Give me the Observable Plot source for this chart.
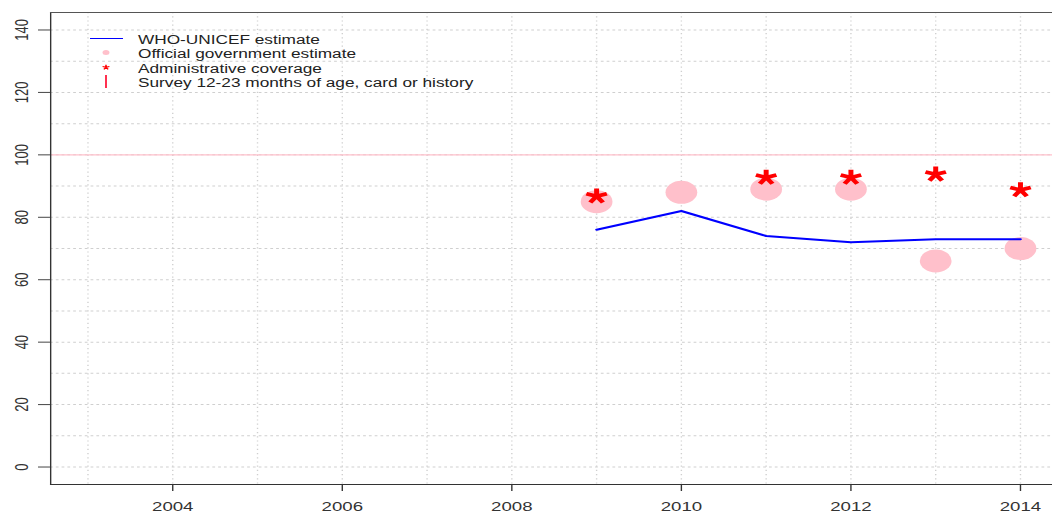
<!DOCTYPE html>
<html><head><meta charset="utf-8">
<script src="https://cdn.jsdelivr.net/npm/d3@7"></script>
<script src="https://cdn.jsdelivr.net/npm/@observablehq/plot@0.6"></script>
<style>html,body{margin:0;padding:0;background:#fff;overflow:hidden}</style>
</head><body><div id="chart"></div>
<script>
// ---- data ----
const years = [2009, 2010, 2011, 2012, 2013, 2014];
const whoUnicef = [76, 82, 74, 72, 73, 73];
const official = [85, 88, 89, 89, 66, 70];
const adminYears = [2009, 2011, 2012, 2013, 2014];
const admin = [87, 93, 93, 94, 89];
const xTicks = [2004, 2006, 2008, 2010, 2012, 2014];
const yTicks = [0, 20, 40, 60, 80, 100, 120, 140];
const gridYears = [2003, 2004, 2005, 2006, 2007, 2008, 2009, 2010, 2011, 2012, 2013, 2014];
const gridValues = [0, 10, 20, 30, 40, 50, 60, 70, 80, 90, 100, 110, 120, 130, 140];
const targetLine = [100];
const legendLabels = ["WHO-UNICEF estimate", "Official government estimate", "Administrative coverage", "Survey 12-23 months of age, card or history"];

const whoData = years.map((y, i) => ({year: y, value: whoUnicef[i]}));
const offData = years.map((y, i) => ({year: y, value: official[i]}));
const admData = adminYears.map((y, i) => ({year: y, value: admin[i]}));

// drawing in an unstretched coordinate system, then stretched horizontally
const W = 762, H = 514, OUTW = 1052;

const asterisk5 = {
  draw(context, size) {
    const L = Math.sqrt(size / Math.PI);
    const off = 0.0955 * L;
    for (let i = 0; i < 5; i++) {
      const a = -Math.PI / 2 + i * 2 * Math.PI / 5;
      context.moveTo(0, off);
      context.lineTo(L * Math.cos(a), off + L * Math.sin(a));
    }
  }
};

const chart = Plot.plot({
  width: W,
  height: H,
  marginLeft: 36.2,
  marginRight: 0,
  marginTop: 12,
  marginBottom: 30,
  style: {fontFamily: "Liberation Sans, Arial, sans-serif", fontSize: "14px", background: "#fff", color: "#222"},
  x: {domain: [2002.56, 2014.38]},
  y: {domain: [-5.6, 145.6]},
  marks: [
    Plot.gridX(gridYears, {stroke: "#cfcfcf", strokeOpacity: 1, strokeDasharray: "1.2,3"}),
    Plot.gridY(gridValues, {stroke: "#cfcfcf", strokeOpacity: 1, strokeDasharray: "2,2.2"}),
    Plot.ruleY(targetLine, {stroke: "pink", strokeWidth: 1.2}),
    Plot.axisX({ticks: xTicks, tickSize: 7, tickPadding: 10, tickFormat: d => String(d), fontSize: 13.5, color: "#333", label: null}),
    Plot.axisY({ticks: yTicks, tickSize: 8.7, tickFormat: () => "", color: "#444", label: null}),
    Plot.text(yTicks, {y: d => d, text: d => String(d), frameAnchor: "left", dx: -20.3, rotate: -90, textAnchor: "middle", lineAnchor: "middle", fontSize: 13, fill: "#333"}),
    Plot.frame({anchor: "left", stroke: "#333"}),
    Plot.frame({anchor: "bottom", stroke: "#333"}),
    Plot.frame({anchor: "top", stroke: "#555"}),
    Plot.dot(offData, {x: "year", y: "value", r: 11.5, fill: "pink", stroke: "none"}),
    Plot.line(whoData, {x: "year", y: "value", stroke: "blue", strokeWidth: 2}),
    Plot.dot(admData, {x: "year", y: "value", symbol: asterisk5, r: 7.8, fill: "none", stroke: "red", strokeWidth: 3.6})
  ]
});

chart.setAttribute("width", OUTW);
chart.setAttribute("height", H);
chart.setAttribute("viewBox", `0 0 ${W} ${H}`);
chart.setAttribute("preserveAspectRatio", "none");
chart.style.maxWidth = "none";
chart.style.display = "block";

// legend
const s = OUTW / W;
const svg = d3.select(chart);
const lg = svg.append("g")
  .attr("font-family", "Liberation Sans, Arial, sans-serif")
  .attr("font-size", 12.5)
  .attr("fill", "#222")
  .attr("text-anchor", "start");
const rows = [44, 58.5, 73, 87.5];
const symX = 106 / s, textX = 138 / s;
lg.append("line").attr("x1", 90 / s).attr("x2", 123 / s).attr("y1", 38.5).attr("y2", 38.5).attr("stroke", "blue").attr("stroke-width", 1);
lg.append("circle").attr("cx", symX).attr("cy", 52.5).attr("r", 2.5).attr("fill", "pink");
const smallStar = d3.path();
asterisk5.draw(smallStar, Math.PI * 2.6 * 2.6);
lg.append("path").attr("d", smallStar.toString()).attr("transform", `translate(${symX},67)`).attr("fill", "none").attr("stroke", "red").attr("stroke-width", 1.1);
lg.append("line").attr("x1", symX).attr("x2", symX).attr("y1", 75).attr("y2", 88).attr("stroke", "#ff2a4a").attr("stroke-width", 1.4);
legendLabels.forEach((t, i) => {
  lg.append("text").attr("x", textX).attr("y", rows[i]).attr("text-anchor", "start").text(t);
});

document.getElementById("chart").appendChild(chart);
</script></body></html>
